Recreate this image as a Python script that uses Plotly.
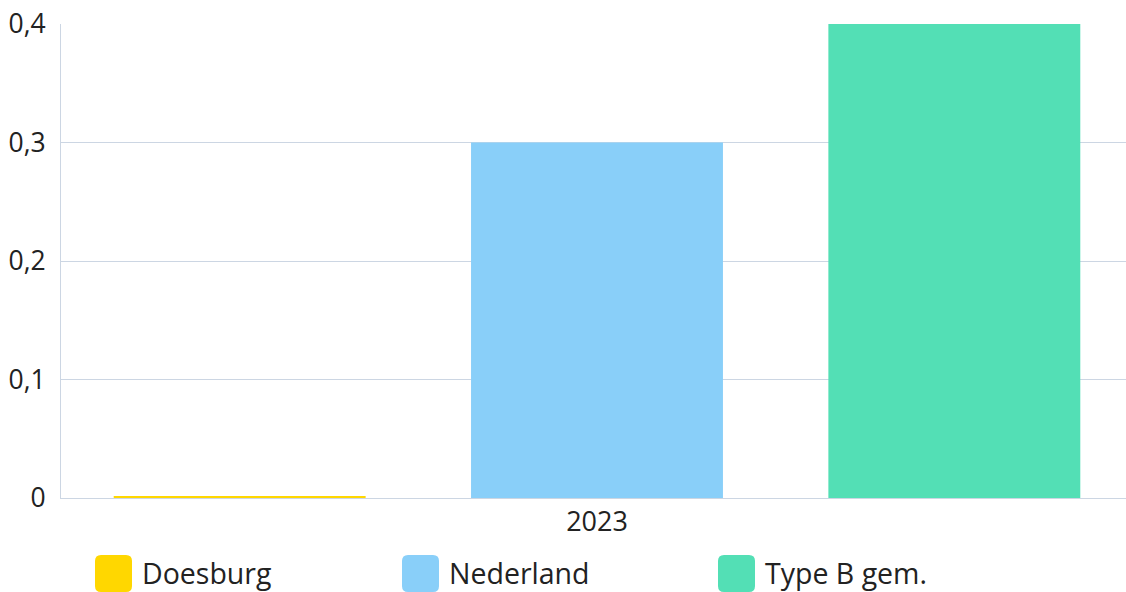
import plotly.graph_objects as go

# data
categories = ["2023"]
series_names = ["Doesburg", "Nederland", "Type B gem."]
series_values = [[0.0017], [0.3], [0.4]]
series_colors = ["#FFD700", "#89CFF9", "#53DFB5"]
y_ticks = [0, 0.1, 0.2, 0.3, 0.4]

W, H = 1133, 592
ML, MR, MT, MB = 61, 0, 24, 94
FONT = "Open Sans, Noto Sans, sans-serif"
GRID = "#ccd6e3"

fig = go.Figure()

for name, vals, col in zip(series_names, series_values, series_colors):
    fig.add_trace(go.Bar(
        x=categories, y=vals, name=name,
        marker=dict(color=col, line=dict(width=0)),
        showlegend=False,
    ))

# eigen legenda met grote afgeronde vierkantjes
legend_px = [95, 402, 718]
sw = 37
r = 6
for name, col, px in zip(series_names, series_colors, legend_px):
    path = (f"M {r},0 L {sw-r},0 Q {sw},0 {sw},{r} L {sw},{sw-r} Q {sw},{sw} {sw-r},{sw} "
            f"L {r},{sw} Q 0,{sw} 0,{sw-r} L 0,{r} Q 0,0 {r},0 Z")
    fig.add_shape(
        type="path", path=path,
        xref="paper", yref="paper",
        xsizemode="pixel", ysizemode="pixel",
        xanchor=(px - ML) / (W - ML - MR),
        yanchor=-(555 + sw - (H - MB)) / (H - MT - MB),
        fillcolor=col, line=dict(width=0),
    )
    fig.add_annotation(
        text=name, xref="paper", yref="paper",
        x=(px + sw + 8 - ML) / (W - ML - MR),
        y=-(573 - (H - MB)) / (H - MT - MB),
        xanchor="left", yanchor="middle", showarrow=False,
        font=dict(family=FONT, size=28.5, color="#222222"),
    )

fig.update_layout(
    width=W, height=H,
    margin=dict(l=ML, r=MR, t=MT, b=MB),
    plot_bgcolor="white", paper_bgcolor="white",
    barmode="group", bargap=0.0, bargroupgap=0.295,
    separators=",.",
    font=dict(family=FONT, size=25, color="#222222"),
    xaxis=dict(showline=True, linecolor=GRID, linewidth=1, ticks="",
               tickfont=dict(size=27), showgrid=False),
    yaxis=dict(range=[0, 0.4], tickvals=y_ticks, showgrid=True, gridcolor=GRID,
               showline=True, linecolor=GRID, zeroline=False, ticks="",
               tickfont=dict(size=26.5), ticklabelstandoff=9),
)

fig.write_html(
    "out.html",
    config={"displayModeBar": False},
    post_script="document.body.style.margin='0';document.body.style.overflow='hidden';",
)
